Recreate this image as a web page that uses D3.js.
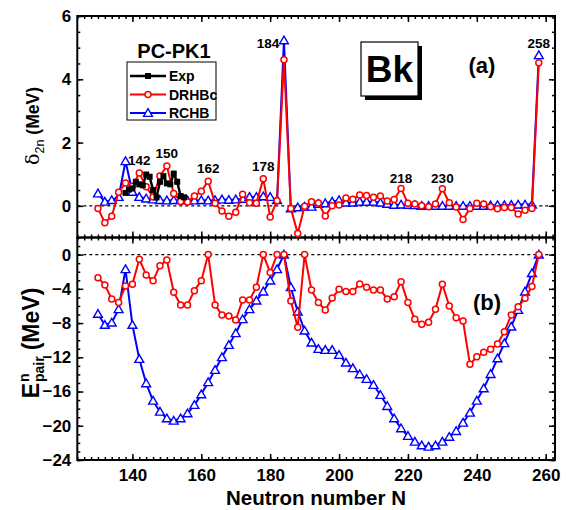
<!DOCTYPE html>
<html><head><meta charset="utf-8">
<script src="https://cdn.jsdelivr.net/npm/d3@7"></script>
<style>
body{margin:0;background:#fff}
svg{display:block}
text{font-family:"Liberation Sans",Arial,Helvetica,sans-serif;font-weight:bold;fill:#000}
</style>
</head><body>
<svg id="c" width="566" height="510"></svg>
<script>
// ---------------- data ----------------
const nTheory = [130,132,134,136,138,140,142,144,146,148,150,152,154,156,158,160,162,164,166,168,170,172,174,176,178,180,182,184,186,188,190,192,194,196,198,200,202,204,206,208,210,212,214,216,218,220,222,224,226,228,230,232,234,236,238,240,242,244,246,248,250,252,254,256,258];

const d2nDRHBc = [-0.08,-0.53,-0.33,0.43,0.72,0.62,1.04,0.60,0.28,0.94,1.26,0.39,0.14,0.12,0.31,0.46,0.78,0.08,-0.16,-0.33,-0.20,0.37,0.10,0.08,0.86,-0.35,0.16,4.62,-0.08,-0.87,-0.01,0.13,0.09,-0.32,0.00,0.03,0.25,0.21,0.34,0.33,0.27,0.31,0.15,0.20,0.55,0.08,0.06,0.00,-0.03,0.06,0.54,0.10,-0.04,-0.43,-0.08,0.08,0.06,-0.03,-0.09,-0.05,-0.05,-0.26,-0.14,-0.08,4.52];

const d2nRCHB = [0.39,0.13,0.18,0.28,1.41,0.44,0.28,0.23,0.20,0.18,0.17,0.18,0.18,0.17,0.17,0.18,0.17,0.18,0.20,0.19,0.20,0.22,0.28,0.28,0.30,0.28,0.18,5.23,-0.08,-0.05,-0.03,-0.03,0.06,0.08,0.13,0.18,0.10,0.10,0.13,0.13,0.13,0.10,0.06,0.03,0.04,0.03,0.02,0.00,0.00,0.00,0.00,0.00,0.00,0.00,0.00,0.00,0.00,0.01,0.02,0.02,0.03,0.04,0.04,0.04,4.76];

const nExp = [138,139,140,141,142,143,144,145,146,147,148,149,150,151,152,153,154,155];
const d2nExp = [0.41,0.52,0.55,0.76,0.68,0.65,0.99,0.92,0.50,0.27,0.76,0.94,0.71,0.68,1.02,0.76,0.31,0.27];

const epairDRHBc = [-2.70,-3.54,-5.18,-5.61,-3.66,-3.46,-0.54,-2.37,-3.04,-1.29,-0.62,-4.40,-5.88,-5.88,-4.21,-3.04,0.00,-5.88,-7.05,-7.17,-7.64,-5.30,-5.30,-3.81,0.00,-2.10,0.00,0.00,-5.42,-8.50,0.00,-4.13,-5.61,-6.47,-5.06,-4.05,-4.32,-4.32,-3.43,-3.81,-4.13,-4.13,-5.18,-4.91,-3.16,-5.61,-7.56,-8.14,-7.91,-6.39,-3.46,-6.00,-7.37,-7.76,-12.82,-11.93,-11.41,-11.06,-10.44,-9.00,-7.05,-6.08,-5.10,-3.74,0.00];

const epairRCHB = [-6.93,-8.22,-7.95,-6.39,-1.71,-8.22,-12.20,-15.04,-17.08,-18.36,-19.14,-19.42,-19.14,-18.55,-17.58,-16.33,-14.92,-13.49,-12.00,-10.56,-9.19,-7.56,-6.39,-5.38,-4.32,-3.04,-1.71,0.00,-3.81,-6.67,-8.89,-10.29,-11.03,-11.15,-11.15,-11.73,-12.63,-13.28,-13.99,-14.54,-15.24,-16.41,-17.70,-19.14,-20.30,-21.20,-21.87,-22.30,-22.45,-22.30,-21.87,-21.30,-20.62,-19.65,-18.48,-17.08,-15.63,-13.96,-12.13,-10.36,-8.42,-6.47,-4.32,-2.17,0.00];

const xTickValues = [140,160,180,200,220,240,260];
const yTopTickValues = [0,2,4,6];
const yBotTickValues = [0,-4,-8,-12,-16,-20,-24];
const peakLabels = ["142","150","162","178","184","218","230","258"];
const peakN = [142,150,162,178,184,218,230,258];
const peakVal = [1.04,1.26,0.78,0.86,4.62,0.55,0.54,4.76];
const legendNames = ["Exp","DRHBc","RCHB"];

// ---------------- layout ----------------
const svg = d3.select("#c");
const L = 77.3, R = 555;
const topY0 = 16, midY = 237.5, botY1 = 460;
const x = d3.scaleLinear().domain([124, 262.7]).range([L, R]);
const yT = d3.scaleLinear().domain([-1, 6]).range([midY, topY0]);
const yB = d3.scaleLinear().domain([-24, 2]).range([botY1, midY]);

const RED = "#ff0000", BLUE = "#0000ff", BLK = "#000";

function minorRange(a, b, s){ const out=[]; for(let v=a; v<=b+1e-9; v+=s) out.push(+v.toFixed(4)); return out; }
const xMinor = minorRange(124, 262, 2);

function axesFor(y, yMin, yMax, yStep, majors, showXLabels, top, bottom){
  svg.append("g").attr("transform", `translate(0,${bottom})`)
    .call(d3.axisBottom(x).tickValues(xMinor).tickSize(-3).tickFormat(""));
  svg.append("g").attr("transform", `translate(0,${bottom})`)
    .call(d3.axisBottom(x).tickValues(xTickValues).tickSize(-6).tickPadding(9)
    .tickFormat(showXLabels ? d3.format("d") : ""));
  svg.append("g").attr("transform", `translate(0,${top})`)
    .call(d3.axisTop(x).tickValues(xMinor).tickSize(-3).tickFormat(""));
  svg.append("g").attr("transform", `translate(0,${top})`)
    .call(d3.axisTop(x).tickValues(xTickValues).tickSize(-6).tickFormat(""));
  const yMinor = minorRange(yMin, yMax, yStep);
  svg.append("g").attr("transform", `translate(${L},0)`)
    .call(d3.axisLeft(y).tickValues(yMinor).tickSize(-3).tickFormat(""));
  svg.append("g").attr("transform", `translate(${L},0)`)
    .call(d3.axisLeft(y).tickValues(majors).tickSize(-6).tickPadding(6).tickFormat(d3.format("d")));
  svg.append("g").attr("transform", `translate(${R},0)`)
    .call(d3.axisRight(y).tickValues(yMinor).tickSize(-3).tickFormat(""));
  svg.append("g").attr("transform", `translate(${R},0)`)
    .call(d3.axisRight(y).tickValues(majors).tickSize(-6).tickFormat(""));
}

// zero dashed lines
svg.append("line").attr("x1", L).attr("x2", R).attr("y1", yT(0)).attr("y2", yT(0))
  .attr("stroke", BLK).attr("stroke-width", 1.2).attr("stroke-dasharray", "3,3");
svg.append("line").attr("x1", L).attr("x2", R).attr("y1", yB(0)).attr("y2", yB(0))
  .attr("stroke", BLK).attr("stroke-width", 1.2).attr("stroke-dasharray", "3,3");

axesFor(yT, -1, 6, 0.5, yTopTickValues, false, topY0, midY);
axesFor(yB, -24, 2, 1, yBotTickValues, true, midY, botY1);

svg.selectAll(".domain").remove();
svg.selectAll(".tick line").attr("stroke", BLK).attr("stroke-width", 1.5);
svg.selectAll(".tick text").attr("font-size", 17).attr("font-family", "Liberation Sans, Arial, sans-serif").attr("font-weight", "bold").attr("fill", BLK);

// frames
svg.append("rect").attr("x", L).attr("y", topY0).attr("width", R-L).attr("height", midY-topY0)
  .attr("fill", "none").attr("stroke", BLK).attr("stroke-width", 2);
svg.append("rect").attr("x", L).attr("y", midY).attr("width", R-L).attr("height", botY1-midY)
  .attr("fill", "none").attr("stroke", BLK).attr("stroke-width", 2);

const tri = d3.symbol().type(d3.symbolTriangle).size(34);

function series(xs, ys, y, color, kind, lw){
  const pts = xs.map((n,i)=>[n, ys[i]]);
  svg.append("path").datum(pts)
    .attr("d", d3.line().x(d=>x(d[0])).y(d=>y(d[1])))
    .attr("fill","none").attr("stroke", color).attr("stroke-width", lw).attr("stroke-linejoin","round");
  const g = svg.append("g");
  if(kind === "circle"){
    g.selectAll("circle").data(pts).join("circle")
      .attr("cx", d=>x(d[0])).attr("cy", d=>y(d[1])).attr("r", 3)
      .attr("fill","#fff").attr("stroke", color).attr("stroke-width", 1.5);
  } else if(kind === "tri"){
    g.selectAll("path").data(pts).join("path")
      .attr("d", tri).attr("transform", d=>`translate(${x(d[0])},${y(d[1])+0.8})`)
      .attr("fill","#fff").attr("stroke", color).attr("stroke-width", 1.4);
  } else {
    g.selectAll("rect").data(pts).join("rect")
      .attr("x", d=>x(d[0])-3).attr("y", d=>y(d[1])-3).attr("width", 6).attr("height", 6)
      .attr("fill", color);
  }
}

// top panel
series(nTheory, d2nRCHB, yT, BLUE, "tri", 2);
series(nTheory, d2nDRHBc, yT, RED, "circle", 2);
series(nExp, d2nExp, yT, BLK, "square", 2.5);
// bottom panel
series(nTheory, epairRCHB, yB, BLUE, "tri", 2);
series(nTheory, epairDRHBc, yB, RED, "circle", 2);

// peak labels
const labelDx = [0,0,0,0,-16,0,0,0];
const labelDy = [-8,-8,-8,-8,-12,-5,-6,-7];
peakLabels.forEach((t,i)=>{
  svg.append("text").attr("x", x(peakN[i]) + labelDx[i]).attr("y", yT(peakVal[i]) + labelDy[i])
    .attr("text-anchor","middle").attr("font-size", 13.5).text(t);
});

// PC-PK1
svg.append("text").attr("x", 174).attr("y", 58).attr("text-anchor","middle").attr("font-size", 20).text("PC-PK1");

// legend
svg.append("rect").attr("x", 127).attr("y", 62).attr("width", 89).attr("height", 58)
  .attr("fill","#fff").attr("stroke", BLK).attr("stroke-width", 1);
const legColors = [BLK, RED, BLUE];
const legKinds = ["square","circle","tri"];
const legY = [76, 94.5, 113];
legendNames.forEach((nm,i)=>{
  svg.append("line").attr("x1",130).attr("x2",166).attr("y1",legY[i]).attr("y2",legY[i])
    .attr("stroke", legColors[i]).attr("stroke-width", i===0?2.5:2);
  if(legKinds[i]==="square") svg.append("rect").attr("x",145).attr("y",legY[i]-3).attr("width",6).attr("height",6).attr("fill",BLK);
  if(legKinds[i]==="circle") svg.append("circle").attr("cx",148).attr("cy",legY[i]).attr("r",3).attr("fill","#fff").attr("stroke",RED).attr("stroke-width",1.5);
  if(legKinds[i]==="tri") svg.append("path").attr("d",tri).attr("transform",`translate(148,${legY[i]+0.8})`).attr("fill","#fff").attr("stroke",BLUE).attr("stroke-width",1.4);
  svg.append("text").attr("x",169).attr("y",legY[i]+5).attr("font-size",14).text(nm);
});

// Bk box
svg.append("rect").attr("x", 365).attr("y", 46).attr("width", 57).attr("height", 54).attr("fill", BLK);
svg.append("rect").attr("x", 361).attr("y", 42).attr("width", 57).attr("height", 54)
  .attr("fill","#fff").attr("stroke", BLK).attr("stroke-width", 1.2);
svg.append("text").attr("x", 389.5).attr("y", 82).attr("text-anchor","middle").attr("font-size", 37).text("Bk");

// panel labels
svg.append("text").attr("x", 482).attr("y", 73).attr("text-anchor","middle").attr("font-size", 22).text("(a)");
svg.append("text").attr("x", 487).attr("y", 310).attr("text-anchor","middle").attr("font-size", 22).text("(b)");

// x title
svg.append("text").attr("x", 316).attr("y", 505).attr("text-anchor","middle").attr("font-size", 20.5).text("Neutron number N");

// y title top: δ2n (MeV)
const t1 = svg.append("text").attr("transform","translate(39,126) rotate(-90)")
  .attr("text-anchor","middle").attr("font-size", 17.5);
t1.append("tspan").attr("font-weight","normal").attr("font-family","DejaVu Serif, serif").attr("font-size", 19).text("δ");
t1.append("tspan").attr("font-size", 12.5).attr("dy", 5).attr("font-weight","normal").text("2n");
t1.append("tspan").attr("dy", -5).attr("dx", 5).text("(MeV)");

// y title bottom: E^n_pair (MeV)
const g2 = svg.append("g").attr("transform","translate(39,343) rotate(-90)");
const eT = g2.append("text").attr("font-size", 23).attr("x", 0).attr("y", 0).text("E");
const nT = g2.append("text").attr("font-size", 14).attr("y", -10).text("n");
const pT = g2.append("text").attr("font-size", 14).attr("y", 5).text("pair");
const mT = g2.append("text").attr("font-size", 23).attr("y", 0).text("(MeV)");
const gap = 6;
const wE = eT.node().getComputedTextLength();
const wP = pT.node().getComputedTextLength();
const wM = mT.node().getComputedTextLength();
const total = wE + 1 + wP + gap + wM;
const x0 = -total/2;
eT.attr("x", x0);
nT.attr("x", x0 + wE + 1);
pT.attr("x", x0 + wE + 1);
mT.attr("x", x0 + wE + 1 + wP + gap);
</script>
</body></html>
